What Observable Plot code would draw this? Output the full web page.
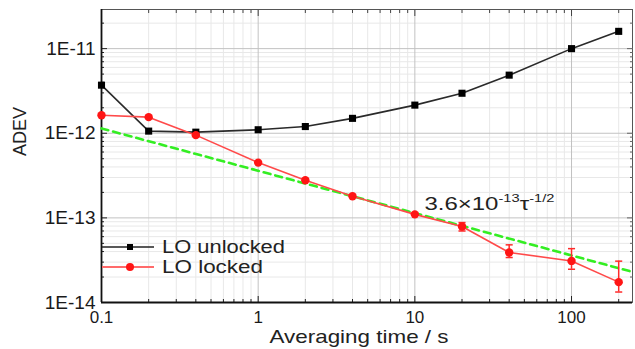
<!DOCTYPE html>
<html>
<head>
<meta charset="utf-8">
<script src="https://cdn.jsdelivr.net/npm/d3@7"></script>
<script src="https://cdn.jsdelivr.net/npm/@observablehq/plot@0.6"></script>
<style>
  html, body { margin: 0; padding: 0; background: #fff; }
  #chart { width: 635px; height: 349px; }
  svg { font-family: "Liberation Sans", Arial, sans-serif; }
</style>
</head>
<body>
<div id="chart"></div>
<script>
// Averaging times (s)
const tau = [0.1, 0.2, 0.4, 1, 2, 4, 10, 20, 40, 100, 200];
// ADEV, LO unlocked
const unlocked = [3.7e-12, 1.06e-12, 1.03e-12, 1.1e-12, 1.2e-12, 1.5e-12, 2.15e-12, 2.97e-12, 4.86e-12, 1.0e-11, 1.6e-11];
// ADEV, LO locked
const locked = [1.63e-12, 1.55e-12, 9.5e-13, 4.5e-13, 2.78e-13, 1.8e-13, 1.1e-13, 7.9e-14, 3.9e-14, 3.1e-14, 1.74e-14];
// error bars, LO locked
const errTau = [20, 40, 100, 200];
const errLo = [7.0e-14, 3.4e-14, 2.47e-14, 1.33e-14];
const errHi = [8.8e-14, 4.8e-14, 4.33e-14, 3.08e-14];
// error bar, LO unlocked
const errTauU = [200];
const errLoU = [1.5e-11];
const errHiU = [1.72e-11];
// fit line endpoints: 3.6e-13 * tau^-1/2
const fitTau = [0.1, 245];
const fitAdev = [1.14e-12, 2.3e-14];

// tick values and labels
const xMajor = [0.1, 1, 10, 100];
const xTickLabels = ["0.1", "1", "10", "100"];
const xMinor = [0.2,0.3,0.4,0.5,0.6,0.7,0.8,0.9, 2,3,4,5,6,7,8,9, 20,30,40,50,60,70,80,90, 200];
const yMajor = [1e-14, 1e-13, 1e-12, 1e-11];
const yTickLabels = ["1E-14", "1E-13", "1E-12", "1E-11"];
const yMinor = [];
yMajor.forEach(d => { for (let k = 2; k <= 9; k++) if (d * k <= 2.9e-11) yMinor.push(d * k); });

const uData = tau.map((t, i) => ({t, v: unlocked[i]}));
const lData = tau.map((t, i) => ({t, v: locked[i]}));
const eData = errTau.map((t, i) => ({t, lo: errLo[i], hi: errHi[i]}));
const euData = errTauU.map((t, i) => ({t, lo: errLoU[i], hi: errHiU[i]}));
const fData = fitTau.map((t, i) => ({t, v: fitAdev[i]}));

const cap = { draw(ctx, size) { const w = Math.sqrt(size) / 2; ctx.moveTo(-w, 0); ctx.lineTo(w, 0); } };

const xTitle = "Averaging time / s";
const font = "Liberation Sans, Arial, sans-serif";
const plot = Plot.plot({
  width: 635,
  height: 349,
  marginLeft: 101,
  marginRight: 3,
  marginTop: 9,
  marginBottom: 47,
  style: { fontFamily: font, fontSize: "18px", color: "#222", background: "#fff" },
  x: { type: "log", domain: [0.1, 245] },
  y: { type: "log", domain: [1e-14, 2.9e-11] },
  marks: [
    Plot.gridX(xMinor, { stroke: "#e8e8e8", strokeOpacity: 1 }),
    Plot.gridY(yMinor, { stroke: "#e8e8e8", strokeOpacity: 1 }),
    Plot.gridX(xMajor, { stroke: "#c2c2c2", strokeOpacity: 1 }),
    Plot.gridY(yMajor, { stroke: "#c2c2c2", strokeOpacity: 1 }),
    Plot.frame({ stroke: "#555" }),
    // inward ticks on all four sides
    Plot.axisX(xMajor, { anchor: "bottom", tickSize: -6, tickFormat: () => "", label: null, stroke: "#222" }),
    Plot.axisX(xMinor, { anchor: "bottom", tickSize: -3, tickFormat: () => "", label: null, stroke: "#222" }),
    Plot.axisX(xMajor, { anchor: "top", tickSize: -6, tickFormat: () => "", label: null, stroke: "#444" }),
    Plot.axisX(xMinor, { anchor: "top", tickSize: -3, tickFormat: () => "", label: null, stroke: "#444" }),
    Plot.axisY(yMajor, { anchor: "left", tickSize: -6, tickFormat: () => "", label: null, stroke: "#222" }),
    Plot.axisY(yMinor, { anchor: "left", tickSize: -3, tickFormat: () => "", label: null, stroke: "#222" }),
    Plot.axisY(yMajor, { anchor: "right", tickSize: -6, tickFormat: () => "", label: null, stroke: "#666" }),
    Plot.axisY(yMinor, { anchor: "right", tickSize: -3, tickFormat: () => "", label: null, stroke: "#666" }),
    // tick labels
    Plot.axisX(xMajor, { anchor: "bottom", tickSize: 0, tickPadding: 8, tickFormat: d => xTickLabels[xMajor.indexOf(d)], label: null, fontSize: 17, fill: "#1a1a1a" }),
    Plot.axisY(yMajor, { anchor: "left", tickSize: 0, tickPadding: 6, tickFormat: d => yTickLabels[yMajor.indexOf(d)], label: null, fontSize: 19, fill: "#1a1a1a" }),
    // darker left/bottom axis lines
    Plot.ruleX([0.1], { stroke: "#111", strokeWidth: 1.8 }),
    Plot.ruleY([1e-14], { stroke: "#111", strokeWidth: 1.8 }),
    // axis titles
    Plot.text([xTitle], { frameAnchor: "bottom", lineAnchor: "middle", dy: 34, dx: -8, fontSize: 19, fill: "#222" }),
    Plot.text(["ADEV"], { frameAnchor: "left", dx: -81, rotate: -90, fontSize: 18, fill: "#222" }),
    // fit line
    Plot.line(fData, { x: "t", y: "v", stroke: "#33ee22", strokeWidth: 2.6, strokeDasharray: "7,5" }),
    // unlocked
    Plot.line(uData, { x: "t", y: "v", stroke: "#2a2a2a", strokeWidth: 1.6 }),
    Plot.ruleX(euData, { x: "t", y1: "lo", y2: "hi", stroke: "#000", strokeWidth: 1.5 }),
    Plot.dot(uData, { x: "t", y: "v", symbol: "square", r: 4, fill: "#000" }),
    // locked
    Plot.line(lData, { x: "t", y: "v", stroke: "#ff4a4a", strokeWidth: 1.6 }),
    Plot.ruleX(eData, { x: "t", y1: "lo", y2: "hi", stroke: "#ff2a2a", strokeWidth: 1.5 }),
    Plot.dot(eData, { x: "t", y: "lo", symbol: cap, r: 4, stroke: "#ff2a2a", strokeWidth: 1.5 }),
    Plot.dot(eData, { x: "t", y: "hi", symbol: cap, r: 4, stroke: "#ff2a2a", strokeWidth: 1.5 }),
    Plot.dot(lData, { x: "t", y: "v", r: 4.2, fill: "#ff1515" })
  ]
});

const svg = d3.select(plot);
const xs = plot.scale("x"), ys = plot.scale("y");

// widen the x title slightly, as in the reference
svg.selectAll("text").filter(function () { return this.textContent === xTitle; })
  .attr("textLength", 179).attr("lengthAdjust", "spacingAndGlyphs");

// annotation with superscripts, anchored in data space
const ann = svg.append("text")
  .attr("x", xs.apply(11.6))
  .attr("y", ys.apply(1.21e-13))
  .attr("text-anchor", "start")
  .attr("textLength", 130).attr("lengthAdjust", "spacingAndGlyphs")
  .attr("font-size", 18).attr("fill", "#222").attr("font-family", font);
ann.append("tspan").text("3.6×10");
ann.append("tspan").attr("font-size", 11).attr("dy", -8).text("-13");
ann.append("tspan").attr("font-size", 18).attr("dy", 8).text("τ");
ann.append("tspan").attr("font-size", 11).attr("dy", -8).text("-1/2");

// legend
const lg = svg.append("g").attr("font-family", font).attr("font-size", 18).attr("fill", "#222").attr("text-anchor", "start");
const items = [
  { label: "LO unlocked", stroke: "#222", fill: "#000", sym: "square", y: 247, w: 1.5, len: 123 },
  { label: "LO locked", stroke: "#ff6a6a", fill: "#ff1515", sym: "circle", y: 267, w: 2.2, len: 101 }
];
items.forEach(it => {
  lg.append("line").attr("x1", 102).attr("x2", 154).attr("y1", it.y).attr("y2", it.y)
    .attr("stroke", it.stroke).attr("stroke-width", it.w);
  if (it.sym === "square") {
    lg.append("rect").attr("x", 127).attr("y", it.y - 3).attr("width", 6).attr("height", 6).attr("fill", it.fill);
  } else {
    lg.append("circle").attr("cx", 130).attr("cy", it.y).attr("r", 4).attr("fill", it.fill);
  }
  lg.append("text").attr("x", 162).attr("y", it.y).attr("dy", "0.36em")
    .attr("textLength", it.len).attr("lengthAdjust", "spacingAndGlyphs").text(it.label);
});

document.getElementById("chart").appendChild(plot);
</script>
</body>
</html>
